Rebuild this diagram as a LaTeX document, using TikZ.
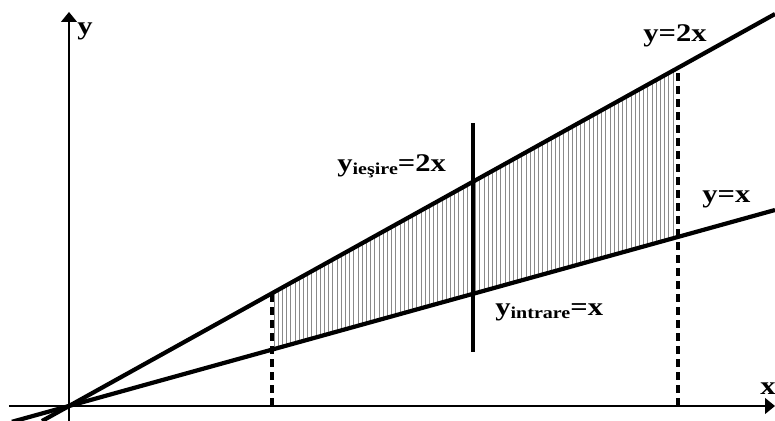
\documentclass[tikz,border=0pt]{standalone}
\usepackage{fontspec}
\setmainfont{Liberation Serif}
\newfontfamily\lblfont[FakeStretch=1.2]{Liberation Serif}
\usetikzlibrary{arrows.meta}
\definecolor{HatchGray}{HTML}{8A8A8A}
\tikzset{
  axisline/.style={line width=0.6pt,-{Triangle[length=2mm,width=3.2mm]}},
  graphline/.style={line width=2.4pt},
  boundline/.style={line width=2pt,dash pattern=on 1.6mm off 1mm},
  cutline/.style={line width=2pt},
  hatchline/.style={HatchGray,line width=0.5pt},
  lbl/.style={font=\lblfont\bfseries\fontsize{14.5}{16}\selectfont,inner sep=0pt,anchor=base west},
}
\newcommand{\subtxt}[1]{\raisebox{-1.5pt}{\fontsize{9.5}{11}\selectfont #1}}
\begin{document}
\begin{tikzpicture}[x=0.2mm,y=0.2mm]
  \useasboundingbox (-69,-15) rectangle (706,406);
  % hatching between the two lines
  \foreach \xx in {205,209.2,...,607}
    \draw[hatchline] (\xx,0.2775*\xx) -- (\xx,0.555*\xx);

  % axes
  \coordinate (O) at (0,0);
  \coordinate (xs) at (-60,0);
  \coordinate (xe) at (706,0);
  \coordinate (ys) at (0,-15);
  \coordinate (ye) at (0,394);
  \draw[axisline] (xs) -- (xe);
  \draw[axisline] (ys) -- (ye);

  % the two lines
  \coordinate (a1) at (-57,-15.8);
  \coordinate (a2) at (706,196);
  \coordinate (b1) at (-27,-15);
  \coordinate (b2) at (706,392);
  \draw[graphline] (a1) -- (a2);
  \draw[graphline] (b1) -- (b2);

  % limits
  \coordinate (l0) at (203,0);
  \coordinate (l1) at (203,112.7);
  \coordinate (r0) at (609,0);
  \coordinate (r1) at (609,338);
  \draw[boundline] (l0) -- (l1);
  \draw[boundline] (r0) -- (r1);

  % cut
  \coordinate (c0) at (404,54);
  \coordinate (c1) at (404,283);
  \draw[cutline] (c0) -- (c1);

  % labels
  \node[lbl] (ylbl) at (8,371) {y};
  \node[lbl] (xlbl) at (691,11) {x};
  \node[lbl] (l2x) at (574,364) {y=2x};
  \node[lbl] (lx) at (633,203) {y=x};
  \node[lbl] (lout) at (268,234) {y\subtxt{ieşire}=2x};
  \node[lbl] (lin) at (426,90) {y\subtxt{intrare}=x};
\end{tikzpicture}
\end{document}
